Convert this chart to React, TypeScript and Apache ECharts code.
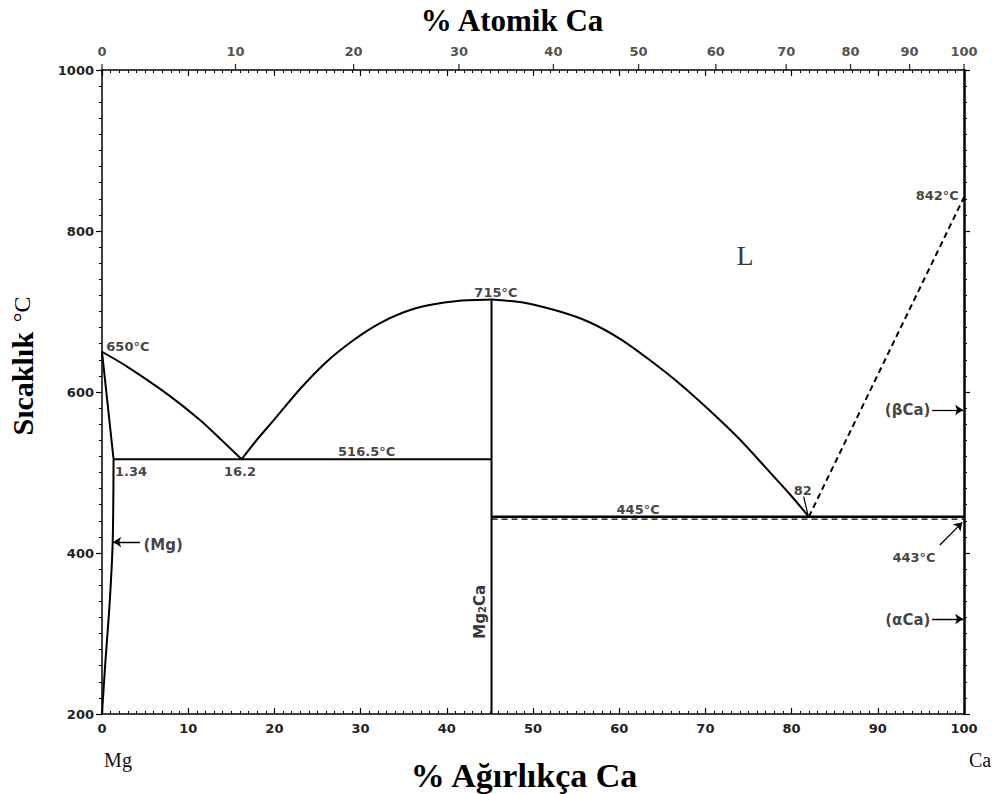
import React, { useEffect, useRef } from "react";
import * as echarts from "echarts";

// Atomic masses used to place the top (atomic %) scale on the weight % axis
const MG_MASS = 24.305;
const CA_MASS = 40.078;
const atToWt = (a: number) => ((a * CA_MASS) / (a * CA_MASS + (100 - a) * MG_MASS)) * 100;

const atomicTicks = [0, 10, 20, 30, 40, 50, 60, 70, 80, 90, 100];

// Phase boundaries [wt% Ca, °C]
const mgLiquidus = [[0, 650], [3, 631], [7.5, 598], [11.4, 565], [14, 539], [16.2, 516.5]];
const mgSolidus = [[0, 650], [1.34, 516.5]];
const mgSolvus = [[1.34, 516.5], [1.24, 414], [0.9, 340], [0.35, 258], [0, 200]];
const eutectic1 = [[1.34, 516.5], [45.19, 516.5]];
const mg2caLiquidusLeft = [[16.2, 516.5], [18, 541], [20, 566], [23, 604], [26, 637], [29, 663], [32, 684], [35, 699], [38, 708], [41.5, 713.5], [45.19, 715]];
const mg2caLine = [[45.19, 715], [45.19, 200]];
const mg2caLiquidusRight = [[45.19, 715], [49, 711], [53.1, 700], [56.5, 687], [60.1, 666], [63.5, 640], [67.05, 610], [70.5, 577], [74, 541], [77, 506], [79.8, 473], [82, 445]];
const eutectic2 = [[45.19, 445], [100, 445]];
const line443 = [[45.19, 442], [100, 442]];
const caLiquidus = [[82, 445], [100, 842]];

// Annotations: [label, wt%, °C, align]
const annotations: [string, number, number, string][] = [
  ["650°C", 0.5, 657, "left"],
  ["715°C", 45.7, 724, "center"],
  ["842°C", 99.4, 844, "right"],
  ["1.34", 1.5, 501, "left"],
  ["16.2", 16, 501, "center"],
  ["516.5°C", 30.7, 526, "center"],
  ["445°C", 62.2, 454, "center"],
  ["82", 81.3, 478, "center"],
  ["443°C", 94.2, 394, "center"],
];
const phaseLabels: [string, number, number, string][] = [
  ["(βCa)", 96.1, 578, "right"],
  ["(αCa)", 96.1, 317, "right"],
  ["(Mg)", 4.8, 410, "left"],
];
const arrows = [
  [[4.4, 413.7], [1.3, 413.7]],
  [[96.3, 577.6], [99.9, 577.6]],
  [[96.3, 318], [99.9, 318]],
  [[97.2, 410], [99.8, 438]],
];
const pointer82 = [[81.4, 470], [81.9, 447]];

const tickFont = { fontFamily: "DejaVu Sans", fontSize: 13, fontWeight: "bold" as const, color: "#222" };

export default function App() {
  const ref = useRef<HTMLDivElement>(null);
  useEffect(() => {
    document.body.style.margin = "0";
    const chart = echarts.init(ref.current!, null, { renderer: "svg" });
    const line = (data: number[][], opts: any = {}) => ({
      type: "line",
      data,
      showSymbol: false,
      symbol: "none",
      smooth: opts.smooth ?? false,
      xAxisIndex: 0,
      yAxisIndex: 0,
      clip: false,
      lineStyle: { color: "#000", width: opts.width ?? 2, type: opts.dash ? [6, 4] : "solid" },
      z: 3,
    });
    const axisCommon = {
      axisLine: { show: true, onZero: false, lineStyle: { color: "#000", width: 1.5 } },
      axisTick: { show: true, length: 6, lineStyle: { color: "#000", width: 1.2 } },
      minorTick: { show: true, splitNumber: 10, length: 3, lineStyle: { color: "#000", width: 1 } },
      splitLine: { show: false },
    };
    const option: any = {
      animation: false,
      backgroundColor: "#fff",
      grid: { left: 102, right: 30, top: 70, bottom: 80 },
      xAxis: [
        {
          type: "value", position: "bottom", min: 0, max: 100, interval: 10, ...axisCommon,
          axisTick: { ...axisCommon.axisTick, inside: true },
          axisLabel: { ...tickFont, margin: 8 },
        },
        {
          type: "value", position: "top", min: 0, max: 100, interval: 10, ...axisCommon,
          axisTick: { ...axisCommon.axisTick, inside: true },
          axisLabel: { show: false },
        },
      ],
      yAxis: [
        {
          type: "value", position: "left", min: 200, max: 1000, interval: 200, ...axisCommon,
          axisTick: { ...axisCommon.axisTick, inside: false },
          axisLabel: { ...tickFont, margin: 8, formatter: (v: number) => String(v) },
        },
        {
          type: "value", position: "right", min: 200, max: 1000, interval: 200, ...axisCommon,
          axisLine: { show: true, onZero: false, lineStyle: { color: "#000", width: 2.5 } },
          axisTick: { ...axisCommon.axisTick, inside: false },
          axisLabel: { show: false },
        },
      ],
      series: [
        line(mgLiquidus, { smooth: 0.3 }),
        line(mgSolidus),
        line(mgSolvus, { smooth: 0.3 }),
        line(eutectic1),
        line(mg2caLiquidusLeft, { smooth: 0.25 }),
        line(mg2caLine),
        line(mg2caLiquidusRight, { smooth: 0.25 }),
        line(eutectic2, { width: 2.5 }),
        line(line443, { dash: true, width: 1.2 }),
        line(caLiquidus, { dash: true, width: 2 }),
        line(pointer82, { width: 1.2 }),
        {
          type: "lines",
          coordinateSystem: "cartesian2d",
          xAxisIndex: 0, yAxisIndex: 0,
          symbol: ["none", "arrow"],
          symbolSize: 8,
          lineStyle: { color: "#000", width: 1.3, opacity: 1 },
          data: arrows.map((c) => ({ coords: c })),
          z: 4,
        },
        {
          type: "scatter",
          xAxisIndex: 1, yAxisIndex: 0,
          clip: false,
          symbol: "rect",
          symbolSize: [1.3, 6],
          symbolOffset: [0, -3],
          itemStyle: { color: "#000" },
          data: atomicTicks.map((a) => ({
            value: [atToWt(a), 1000],
            label: { show: true, position: "top", distance: 6, formatter: String(a), ...tickFont },
          })),
          z: 5,
        },
        {
          type: "scatter",
          xAxisIndex: 0, yAxisIndex: 0,
          clip: false,
          symbolSize: 0,
          data: [
            ...annotations.map(([t, x, y, al]) => ({
              value: [x, y],
              label: { show: true, position: "inside", formatter: t, align: al, verticalAlign: "middle", ...tickFont, color: "#111" },
            })),
            ...phaseLabels.map(([t, x, y, al]) => ({
              value: [x, y],
              label: { show: true, position: "inside", formatter: t, align: al, verticalAlign: "middle", ...tickFont, color: "#111", fontSize: 15 },
            })),
            {
              value: [74.6, 769],
              label: { show: true, position: "inside", formatter: "L", align: "center", verticalAlign: "middle", fontFamily: "Liberation Serif", fontSize: 28, color: "#000" },
            },
            {
              value: [43.8, 327],
              label: {
                show: true, position: "inside", rotate: 90, align: "center", verticalAlign: "middle",
                formatter: "{a|Mg}{b|2}{a|Ca}",
                rich: {
                  a: { fontFamily: "DejaVu Sans", fontSize: 15, fontWeight: "bold", color: "#000" },
                  b: { fontFamily: "DejaVu Sans", fontSize: 10, fontWeight: "bold", color: "#000", verticalAlign: "bottom", padding: [6, 0, 0, 0] },
                },
              },
            },
          ],
          z: 6,
        },
      ],
      graphic: [
        {
          type: "text", x: 512, y: 20,
          style: { text: "% Atomik Ca", fontFamily: "Liberation Serif", fontSize: 31, fontWeight: "bold", fill: "#000", textAlign: "center", textVerticalAlign: "middle" },
        },
        {
          type: "text", x: 524, y: 775,
          style: { text: "% Ağırlıkça Ca", fontFamily: "Liberation Serif", fontSize: 34, fontWeight: "bold", fill: "#000", textAlign: "center", textVerticalAlign: "middle" },
        },
        {
          type: "text", x: 118, y: 760,
          style: { text: "Mg", fontFamily: "Liberation Serif", fontSize: 20, fill: "#111", textAlign: "center", textVerticalAlign: "middle" },
        },
        {
          type: "text", x: 980, y: 760,
          style: { text: "Ca", fontFamily: "Liberation Serif", fontSize: 20, fill: "#111", textAlign: "center", textVerticalAlign: "middle" },
        },
        {
          type: "text", x: 22, y: 366, rotation: Math.PI / 2,
          style: {
            text: "{b|Sıcaklık}   {n|°C}",
            rich: {
              b: { fontFamily: "Liberation Serif", fontSize: 30, fontWeight: "bold", fill: "#000" },
              n: { fontFamily: "Liberation Serif", fontSize: 24, fill: "#000" },
            },
            textAlign: "center", textVerticalAlign: "middle",
          },
        },
      ],
    };
    chart.setOption(option);
    return () => chart.dispose();
  }, []);
  return <div ref={ref} style={{ width: 994, height: 794 }} />;
}
